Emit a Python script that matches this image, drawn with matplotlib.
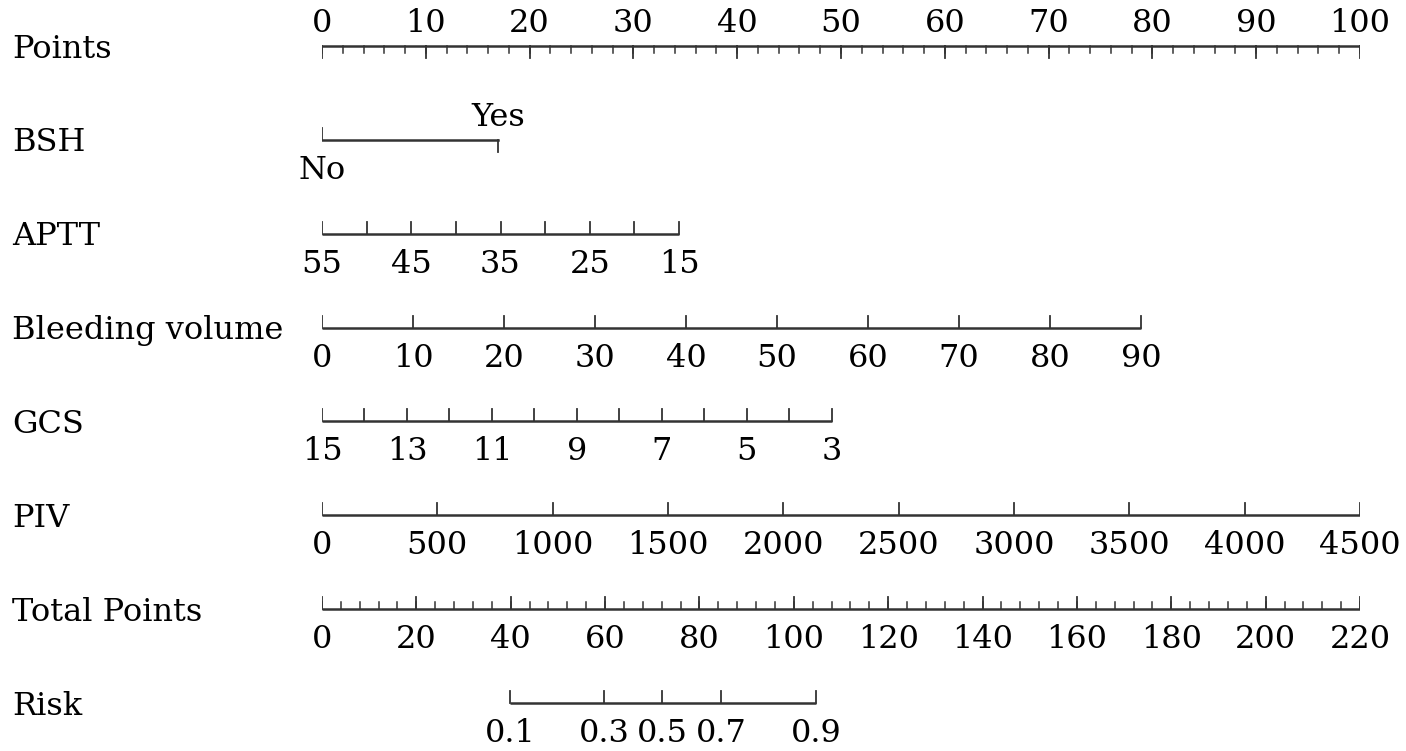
import numpy as np
import matplotlib.pyplot as plt

# nomogram rows (top to bottom)
row_names = ["Points", "BSH", "APTT", "Bleeding volume", "GCS", "PIV", "Total Points", "Risk"]

# points scale
points_major = [0, 10, 20, 30, 40, 50, 60, 70, 80, 90, 100]
points_minor = np.arange(0, 101, 2)

# BSH: categories and their points
bsh_labels = ["No", "Yes"]
bsh_points = [0, 17.0]

# APTT: value range mapped onto points
aptt_ticks = [55, 50, 45, 40, 35, 30, 25, 20, 15]
aptt_labels = [55, 45, 35, 25, 15]
aptt_range = (55, 15)
aptt_pts = (0, 34.4)

# Bleeding volume
bleed_ticks = [0, 10, 20, 30, 40, 50, 60, 70, 80, 90]
bleed_range = (0, 90)
bleed_pts = (0, 78.9)

# GCS
gcs_ticks = [15, 14, 13, 12, 11, 10, 9, 8, 7, 6, 5, 4, 3]
gcs_labels = [15, 13, 11, 9, 7, 5, 3]
gcs_range = (15, 3)
gcs_pts = (0, 49.1)

# PIV
piv_ticks = [0, 500, 1000, 1500, 2000, 2500, 3000, 3500, 4000, 4500]
piv_range = (0, 4500)
piv_pts = (0, 100)

# Total points scale
total_major = [0, 20, 40, 60, 80, 100, 120, 140, 160, 180, 200, 220]
total_minor = np.arange(0, 221, 4)
total_max = 220

# Risk: labels and total points where they sit
risk_labels = ["0.1", "0.3", "0.5", "0.7", "0.9"]
risk_total = [39.8, 59.8, 72.1, 84.6, 104.7]

plt.rcParams['font.family'] = ['DejaVu Serif']
FS = 23
LC = '#333333'

fig = plt.figure(figsize=(14.06, 7.51), dpi=100)
W, H = 1406, 751
x0, x1 = 322, 1360
ytop, ystep = 46, 93.86
ax = fig.add_axes([x0 / W, 0, (x1 - x0) / W, 1])
ax.set_xlim(0, 100)
ax.set_ylim(7 + (H - (ytop + 7 * ystep)) / ystep, -ytop / ystep)
ax.axis('off')

tl = 12 / ystep      # major tick length
tm = 7 / ystep       # minor tick length
gap = 15 / ystep     # label gap below
gap_up = 14 / ystep  # baseline gap above


def scale(v, rng, pts):
    return pts[0] + (np.asarray(v, float) - rng[0]) / (rng[1] - rng[0]) * (pts[1] - pts[0])


def axis_row(r, pos, lab_pos, labels, minor=None, up=True, labels_above=False):
    ax.plot([min(pos), max(pos)], [r, r], color=LC, lw=1.8, solid_capstyle='butt')
    s = -1 if up else 1
    for p in pos:
        ax.plot([p, p], [r, r + s * tl], color=LC, lw=1.3)
    if minor is not None:
        for p in minor:
            ax.plot([p, p], [r, r + s * tm], color=LC, lw=1.1)
    for p, t in zip(lab_pos, labels):
        if labels_above:
            ax.text(p, r - gap_up, str(t), ha='center', va='baseline', fontsize=FS)
        else:
            ax.text(p, r + gap, str(t), ha='center', va='top', fontsize=FS)


# row names
for i, name in enumerate(row_names):
    ax.text(-310 / 10.38, i + 3 / ystep, name, ha='left', va='center', fontsize=FS, clip_on=False)

# Points
axis_row(0, points_major, points_major, points_major, minor=points_minor, up=False, labels_above=True)

# BSH
ax.plot(bsh_points, [1, 1], color=LC, lw=1.8)
ax.plot([bsh_points[0]] * 2, [1, 1 - tl], color=LC, lw=1.3)
ax.plot([bsh_points[1]] * 2, [1, 1 + tl], color=LC, lw=1.3)
ax.text(bsh_points[0], 1 + gap, bsh_labels[0], ha='center', va='top', fontsize=FS)
ax.text(bsh_points[1], 1 - gap_up, bsh_labels[1], ha='center', va='baseline', fontsize=FS)

# APTT
axis_row(2, scale(aptt_ticks, aptt_range, aptt_pts), scale(aptt_labels, aptt_range, aptt_pts), aptt_labels)

# Bleeding volume
bp = scale(bleed_ticks, bleed_range, bleed_pts)
axis_row(3, bp, bp, bleed_ticks)

# GCS
axis_row(4, scale(gcs_ticks, gcs_range, gcs_pts), scale(gcs_labels, gcs_range, gcs_pts), gcs_labels)

# PIV
pp = scale(piv_ticks, piv_range, piv_pts)
axis_row(5, pp, pp, piv_ticks)

# Total points
tp = np.array(total_major) / total_max * 100
axis_row(6, tp, tp, total_major, minor=total_minor / total_max * 100)

# Risk
rp = np.array(risk_total) / total_max * 100
axis_row(7, rp, rp, risk_labels)

fig.savefig('out.png', dpi=100)
